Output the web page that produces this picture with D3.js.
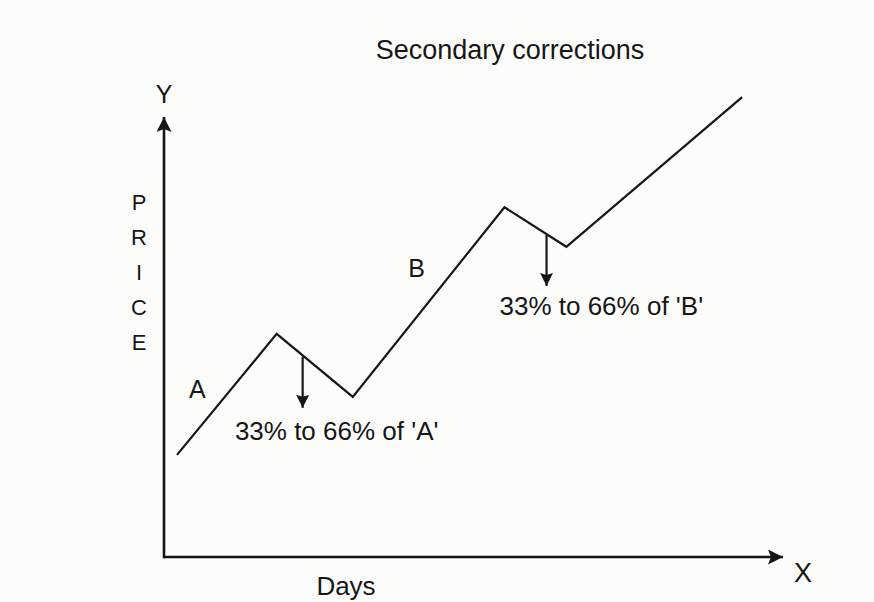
<!DOCTYPE html>
<html>
<head>
  <meta charset="UTF-8">
  <title>Secondary corrections</title>
  <style>
    body { margin: 0; background: #fcfcfb; }
    svg { display: block; font-family: "Liberation Sans", Arial, Helvetica, sans-serif; }
  </style>
</head>
<body>
  <svg id="chart" width="874" height="602"></svg>

  <script src="https://d3js.org/d3.v7.min.js"></script>
  <script>
    // price path (days, price) in arbitrary units
    var days   = [2.1, 18.2, 30.5, 55.0, 65.0, 93.4];
    var prices = [23.2, 50.7, 36.4, 79.5, 70.5, 104.5];

    // correction arrows: day, from price, to price
    var arrowDays = [22.4, 61.8];
    var arrowFrom = [45.5, 73.2];
    var arrowTo   = [33.9, 61.6];

    // correction labels, placed at (day, price) of their left baseline
    var arrowText  = ["33% to 66% of 'A'", "33% to 66% of 'B'"];
    var labelDays  = [11.45, 54.2];
    var labelPrice = [26.6, 55.0];

    // leg labels
    var legNames = ["A", "B"];
    var legDays  = [5.4, 40.8];
    var legPrice = [36.1, 63.6];

    var svg = d3.select("#chart");

    var x = d3.scaleLinear().domain([0, 100]).range([164, 783]);
    var y = d3.scaleLinear().domain([0, 100]).range([557, 117]);

    var ink = "#161616";

    var defs = svg.append("defs");
    defs.append("marker")
        .attr("id", "head")
        .attr("viewBox", "0 0 10 10")
        .attr("refX", 10)
        .attr("refY", 5)
        .attr("markerWidth", 17)
        .attr("markerHeight", 13)
        .attr("markerUnits", "userSpaceOnUse")
        .attr("orient", "auto")
      .append("path")
        .attr("d", "M0,0 L10,5 L0,10 L1.5,5 Z")
        .attr("fill", ink);
    defs.append("marker")
        .attr("id", "axhead")
        .attr("viewBox", "0 0 10 10")
        .attr("refX", 10)
        .attr("refY", 5)
        .attr("markerWidth", 18)
        .attr("markerHeight", 15)
        .attr("markerUnits", "userSpaceOnUse")
        .attr("orient", "auto")
      .append("path")
        .attr("d", "M0,0 L10,5 L0,10 L2,5 Z")
        .attr("fill", ink);

    // axes
    svg.append("line")
        .attr("x1", x(0)).attr("y1", y(0))
        .attr("x2", x(100)).attr("y2", y(0))
        .attr("stroke", ink).attr("stroke-width", 2.6)
        .attr("marker-end", "url(#axhead)");
    svg.append("line")
        .attr("x1", x(0)).attr("y1", y(0) + 1.3)
        .attr("x2", x(0)).attr("y2", y(100))
        .attr("stroke", ink).attr("stroke-width", 2.6)
        .attr("marker-end", "url(#axhead)");

    svg.append("text")
        .attr("x", x(0)).attr("y", 103)
        .attr("text-anchor", "middle")
        .attr("font-size", 25).attr("fill", ink)
        .text("Y");
    svg.append("text")
        .attr("x", 803).attr("y", 582)
        .attr("text-anchor", "middle")
        .attr("font-size", 27).attr("fill", ink)
        .text("X");
    svg.append("text")
        .attr("x", 346).attr("y", 595)
        .attr("text-anchor", "middle")
        .attr("font-size", 26).attr("fill", ink)
        .text("Days");

    // vertical PRICE label
    svg.append("g").selectAll("text")
      .data("PRICE".split(""))
      .enter().append("text")
        .attr("x", 139)
        .attr("y", function(d, i) { return 210 + i * 35; })
        .attr("text-anchor", "middle")
        .attr("font-size", 22).attr("fill", ink)
        .text(function(d) { return d; });

    // title
    svg.append("text")
        .attr("x", 510).attr("y", 59)
        .attr("text-anchor", "middle")
        .attr("font-size", 27).attr("fill", ink)
        .text("Secondary corrections");

    // price path
    var line = d3.line()
        .x(function(d) { return x(d[0]); })
        .y(function(d) { return y(d[1]); });

    svg.append("path")
        .datum(d3.zip(days, prices))
        .attr("d", line)
        .attr("fill", "none")
        .attr("stroke", ink)
        .attr("stroke-width", 2.2)
        .attr("stroke-linejoin", "miter");

    // correction arrows
    svg.selectAll(".corr")
      .data(arrowDays)
      .enter().append("line")
        .attr("class", "corr")
        .attr("x1", function(d) { return x(d); })
        .attr("x2", function(d) { return x(d); })
        .attr("y1", function(d, i) { return y(arrowFrom[i]); })
        .attr("y2", function(d, i) { return y(arrowTo[i]); })
        .attr("stroke", ink)
        .attr("stroke-width", 2.2)
        .attr("marker-end", "url(#head)");

    svg.selectAll(".corr-label")
      .data(arrowText)
      .enter().append("text")
        .attr("class", "corr-label")
        .attr("x", function(d, i) { return x(labelDays[i]); })
        .attr("y", function(d, i) { return y(labelPrice[i]); })
        .attr("font-size", 26).attr("fill", ink)
        .text(function(d) { return d; });

    svg.selectAll(".leg")
      .data(legNames)
      .enter().append("text")
        .attr("class", "leg")
        .attr("x", function(d, i) { return x(legDays[i]); })
        .attr("y", function(d, i) { return y(legPrice[i]); })
        .attr("text-anchor", "middle")
        .attr("font-size", 25).attr("fill", ink)
        .text(function(d) { return d; });
  </script>
</body>
</html>
